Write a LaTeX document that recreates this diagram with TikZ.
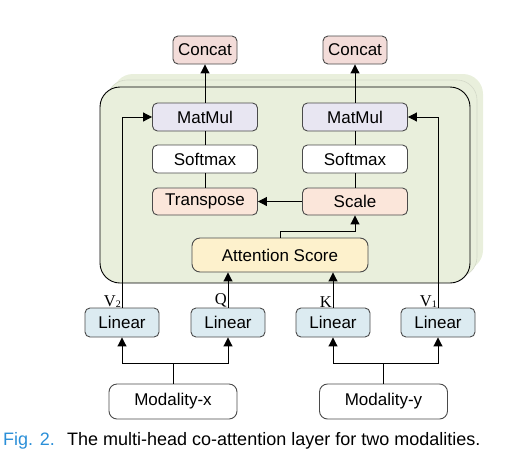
\documentclass[tikz,border=0pt]{standalone}
\usepackage{fontspec}
\setmainfont{Liberation Sans}
\newfontfamily\serifface{Liberation Serif}
\usetikzlibrary{arrows.meta}
\definecolor{cconcat}{HTML}{F3DCD9}
\definecolor{cmatmul}{HTML}{E8E6F2}
\definecolor{cpeach}{HTML}{FBE6DA}
\definecolor{cyellow}{HTML}{FDF1CC}
\definecolor{cblue}{HTML}{DCEBF1}
\definecolor{cgreen}{HTML}{E9EFDC}
\definecolor{cborder}{HTML}{4A4A4A}
\definecolor{cfig}{HTML}{2A8FD8}
\tikzset{
  blk/.style={draw=cborder, line width=0.9pt, rounded corners=5pt, inner sep=0pt,
    font=\fontsize{17}{17}\selectfont, text=black},
  arr/.style={line width=1pt, -{Triangle[length=9pt,width=9pt]}},
  ln/.style={line width=1pt},
  lbl/.style={font=\serifface\fontsize{16.5}{16.5}\selectfont, inner sep=1pt, anchor=south east},
}
\begin{document}
\begin{tikzpicture}[x=1pt,y=-1pt]
\useasboundingbox (0,0) rectangle (516,464);
% stacked layers
\fill[cgreen, rounded corners=20pt] (113,74) rectangle (483,270);
\draw[cgreen!80!gray, fill=cgreen, line width=0.6pt, rounded corners=20pt] (107,80) rectangle (477,277);
\draw[black, fill=cgreen, line width=0.9pt, rounded corners=20pt] (100,87) rectangle (470,283);
% nodes
\node[blk, fill=cconcat, minimum width=64pt, minimum height=28pt] (cc1) at (205,50) {Concat};
\node[blk, fill=cconcat, minimum width=64pt, minimum height=28pt] (cc2) at (355,50) {Concat};
\node[blk, fill=cmatmul, minimum width=105pt, minimum height=28pt] (mm1) at (205,117) {MatMul};
\node[blk, fill=cmatmul, minimum width=105pt, minimum height=28pt] (mm2) at (355,117) {MatMul};
\node[blk, fill=white, minimum width=105pt, minimum height=28pt] (sm1) at (205,159) {Softmax};
\node[blk, fill=white, minimum width=105pt, minimum height=28pt] (sm2) at (355,159) {Softmax};
\node[blk, fill=cpeach, minimum width=105pt, minimum height=27pt] (tp) at (205,201.5) {Transpose};
\node[blk, fill=cpeach, minimum width=105pt, minimum height=27pt] (sc) at (355,201.5) {Scale};
\node[blk, fill=cyellow, minimum width=176pt, minimum height=34pt, rounded corners=8pt] (att) at (280,255) {Attention Score};
\node[blk, fill=cblue, minimum width=74pt, minimum height=29pt] (l1) at (122,322.5) {Linear};
\node[blk, fill=cblue, minimum width=74pt, minimum height=29pt] (l2) at (228,322.5) {Linear};
\node[blk, fill=cblue, minimum width=74pt, minimum height=29pt] (l3) at (333,322.5) {Linear};
\node[blk, fill=cblue, minimum width=74pt, minimum height=29pt] (l4) at (438,322.5) {Linear};
\node[blk, fill=white, minimum width=128pt, minimum height=35pt, rounded corners=8pt] (mx) at (173,401.5) {Modality-x};
\node[blk, fill=white, minimum width=128pt, minimum height=35pt, rounded corners=8pt] (my) at (383.5,401.5) {Modality-y};
% connectors
\draw[arr] (mm1) -- (cc1);
\draw[arr] (mm2) -- (cc2);
\draw[ln] (sm1) -- (mm1);
\draw[ln] (sm2) -- (mm2);
\draw[ln] (tp) -- (sm1);
\draw[ln] (sc) -- (sm2);
\draw[arr] (sc) -- (tp);
\draw[arr] (att.north) -- ++(0,-6) -| (sc.south);
\draw[arr] (l2.north) -- (l2.north |- att.south);
\draw[arr] (l3.north) -- (l3.north |- att.south);
\draw[arr] (l1.north) |- (mm1.west);
\draw[arr] (l4.north) |- (mm2.east);
\coordinate (fx) at (173,363);
\coordinate (fy) at (383.5,363);
\draw[ln] (mx.north) -- (fx);
\draw[arr] (fx) -| (l1.south);
\draw[arr] (fx) -| (l2.south);
\draw[ln] (my.north) -- (fy);
\draw[arr] (fy) -| (l3.south);
\draw[arr] (fy) -| (l4.south);
% labels
\node[lbl] (lv2) at ([yshift=-1pt]l1.north) {V\raisebox{-1pt}{\fontsize{10}{10}\selectfont 2}};
\node[lbl] (lq) at ([yshift=-1pt]l2.north) {Q};
\node[lbl] (lk) at ([yshift=-1pt]l3.north) {K};
\node[lbl] (lv1) at ([yshift=-1pt]l4.north) {V\raisebox{-1pt}{\fontsize{10}{10}\selectfont 1}};
% caption
\node[anchor=base west, inner sep=0pt, font=\fontsize{18}{18}\selectfont, text=cfig] (fig) at (3,445) {Fig. 2.};
\node[anchor=base west, inner sep=0pt, font=\fontsize{18}{18}\selectfont] (cap) at (67,445) {The multi-head co-attention layer for two modalities.};
\end{tikzpicture}
\end{document}
